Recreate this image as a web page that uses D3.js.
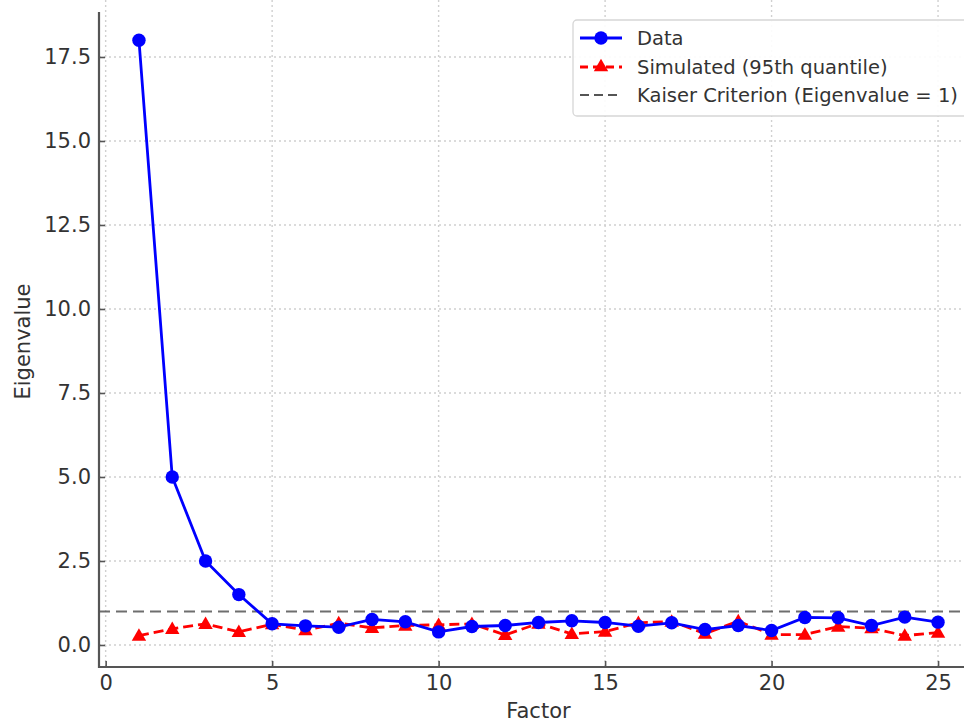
<!DOCTYPE html>
<html>
<head>
<meta charset="utf-8">
<script src="https://cdn.jsdelivr.net/npm/d3@7"></script>
<style>
  html, body { margin: 0; padding: 0; background: #fff; overflow: hidden; }
  svg { display: block; font-family: "DejaVu Sans", sans-serif; }
</style>
</head>
<body>
<svg id="chart" width="964" height="723"></svg>
<script>
// Scree plot: observed eigenvalues vs. parallel-analysis thresholds
const factors = d3.range(1, 26);
const dataEigen = [18.0, 5.0, 2.5, 1.5, 0.63, 0.57, 0.53, 0.76, 0.69, 0.39,
                   0.55, 0.58, 0.67, 0.72, 0.67, 0.56, 0.66, 0.46, 0.58, 0.43,
                   0.82, 0.81, 0.58, 0.83, 0.68];
const simEigen  = [0.28, 0.48, 0.63, 0.39, 0.62, 0.44, 0.65, 0.51, 0.58, 0.60,
                   0.63, 0.30, 0.64, 0.33, 0.40, 0.66, 0.70, 0.34, 0.71, 0.31,
                   0.31, 0.55, 0.50, 0.28, 0.37];
const kaiser = 1;
const xTicks = [0, 5, 10, 15, 20, 25];
const yTicks = [0, 2.5, 5, 7.5, 10, 12.5, 15, 17.5];
const legendLabels = ["Data", "Simulated (95th quantile)", "Kaiser Criterion (Eigenvalue = 1)"];

const svg = d3.select("#chart");
const mLeft = 99, mRight = 978, mTop = 12, mBottom = 667;

const x = d3.scaleLinear().domain([-0.2, 26.2]).range([mLeft, mRight]);
const y = d3.scaleLinear().domain([-0.655, 18.8]).range([mBottom, mBottom - 19.455 * 33.6]);

const textColor = "#333";
const spineColor = "#555";
const tickFont = "21px";

svg.append("defs").append("clipPath").attr("id", "plotclip")
  .append("rect").attr("x", mLeft).attr("y", 0).attr("width", mRight - mLeft).attr("height", mBottom);

// grid
const grid = svg.append("g");
grid.selectAll("line.gx").data(xTicks).join("line")
  .attr("class", "gx")
  .attr("x1", d => x(d)).attr("x2", d => x(d))
  .attr("y1", 0).attr("y2", mBottom)
  .attr("stroke", "#d0d0d0").attr("stroke-width", 1.4).attr("stroke-dasharray", "2,3");
grid.selectAll("line.gy").data(yTicks).join("line")
  .attr("class", "gy")
  .attr("x1", mLeft).attr("x2", mRight)
  .attr("y1", d => y(d)).attr("y2", d => y(d))
  .attr("stroke", "#d0d0d0").attr("stroke-width", 1.4).attr("stroke-dasharray", "2,3");

// axes
const xAxis = d3.axisBottom(x).tickValues(xTicks).tickFormat(d3.format("d"))
  .tickSizeInner(-6).tickSizeOuter(0).tickPadding(8);
const yAxis = d3.axisLeft(y).tickValues(yTicks).tickFormat(d3.format(".1f"))
  .tickSizeInner(-6).tickSizeOuter(0).tickPadding(8);

const gx = svg.append("g").attr("transform", `translate(0,${mBottom})`).call(xAxis);
const gy = svg.append("g").attr("transform", `translate(${mLeft},0)`).call(yAxis);
gx.select(".domain").remove();
gy.select(".domain").remove();
[gx, gy].forEach(g => {
  g.selectAll(".tick line").attr("stroke", spineColor).attr("stroke-width", 1.6);
  g.selectAll(".tick text").attr("fill", textColor).style("font-size", tickFont)
    .style("font-family", "DejaVu Sans, sans-serif");
});

// spines
svg.append("line").attr("x1", mLeft).attr("x2", mLeft).attr("y1", mTop).attr("y2", mBottom + 1)
  .attr("stroke", spineColor).attr("stroke-width", 2.2);
svg.append("line").attr("x1", mLeft - 1).attr("x2", mRight).attr("y1", mBottom).attr("y2", mBottom)
  .attr("stroke", spineColor).attr("stroke-width", 2.2);

// axis titles
svg.append("text").attr("x", (mLeft + mRight) / 2).attr("y", 718)
  .attr("text-anchor", "middle").attr("fill", textColor).style("font-size", tickFont)
  .text("Factor");
svg.append("text").attr("transform", `translate(30,${(mTop + mBottom) / 2 + 2}) rotate(-90)`)
  .attr("text-anchor", "middle").attr("fill", textColor).style("font-size", tickFont)
  .text("Eigenvalue");

const plot = svg.append("g").attr("clip-path", "url(#plotclip)");

// Kaiser criterion
plot.append("line").attr("x1", mLeft).attr("x2", mRight)
  .attr("y1", y(kaiser)).attr("y2", y(kaiser))
  .attr("stroke", "#555").attr("stroke-opacity", 0.85).attr("stroke-width", 2)
  .attr("stroke-dasharray", "11,6");

const line = d3.line().x((d, i) => x(factors[i])).y(d => y(d));

// simulated series
plot.append("path").datum(simEigen).attr("d", line)
  .attr("fill", "none").attr("stroke", "#ff0000").attr("stroke-width", 2.8)
  .attr("stroke-dasharray", "10,5");
plot.selectAll("path.tri").data(simEigen).join("path")
  .attr("class", "tri")
  .attr("transform", (d, i) => `translate(${x(factors[i])},${y(d) + 1})`)
  .attr("d", d3.symbol(d3.symbolTriangle, 90))
  .attr("fill", "#ff0000");

// observed series
plot.append("path").datum(dataEigen).attr("d", line)
  .attr("fill", "none").attr("stroke", "#0000ff").attr("stroke-width", 2.8);
plot.selectAll("circle.dot").data(dataEigen).join("circle")
  .attr("class", "dot")
  .attr("cx", (d, i) => x(factors[i])).attr("cy", d => y(d)).attr("r", 6.7)
  .attr("fill", "#0000ff");

// legend
const lg = svg.append("g");
lg.append("rect").attr("x", 573).attr("y", 20).attr("width", 400).attr("height", 96)
  .attr("rx", 4).attr("fill", "#fff").attr("fill-opacity", 0.9)
  .attr("stroke", "#d6d6d6").attr("stroke-width", 1.3);
const rowY = [38, 67, 95];
// Data
lg.append("line").attr("x1", 580).attr("x2", 622).attr("y1", rowY[0]).attr("y2", rowY[0])
  .attr("stroke", "#0000ff").attr("stroke-width", 2.8);
lg.append("circle").attr("cx", 601).attr("cy", rowY[0]).attr("r", 6.7).attr("fill", "#0000ff");
// Simulated
lg.append("line").attr("x1", 580).attr("x2", 622).attr("y1", rowY[1]).attr("y2", rowY[1])
  .attr("stroke", "#ff0000").attr("stroke-width", 2.8).attr("stroke-dasharray", "8,5");
lg.append("path").attr("transform", `translate(601,${rowY[1]})`)
  .attr("d", d3.symbol(d3.symbolTriangle, 90)).attr("fill", "#ff0000");
// Kaiser
lg.append("line").attr("x1", 580).attr("x2", 622).attr("y1", rowY[2]).attr("y2", rowY[2])
  .attr("stroke", "#555").attr("stroke-width", 2).attr("stroke-dasharray", "9,5");
lg.selectAll("text.lab").data(legendLabels).join("text")
  .attr("class", "lab")
  .attr("x", 637).attr("y", (d, i) => rowY[i] + 7)
  .attr("fill", textColor).style("font-size", "19.5px")
  .text(d => d);
</script>
</body>
</html>
